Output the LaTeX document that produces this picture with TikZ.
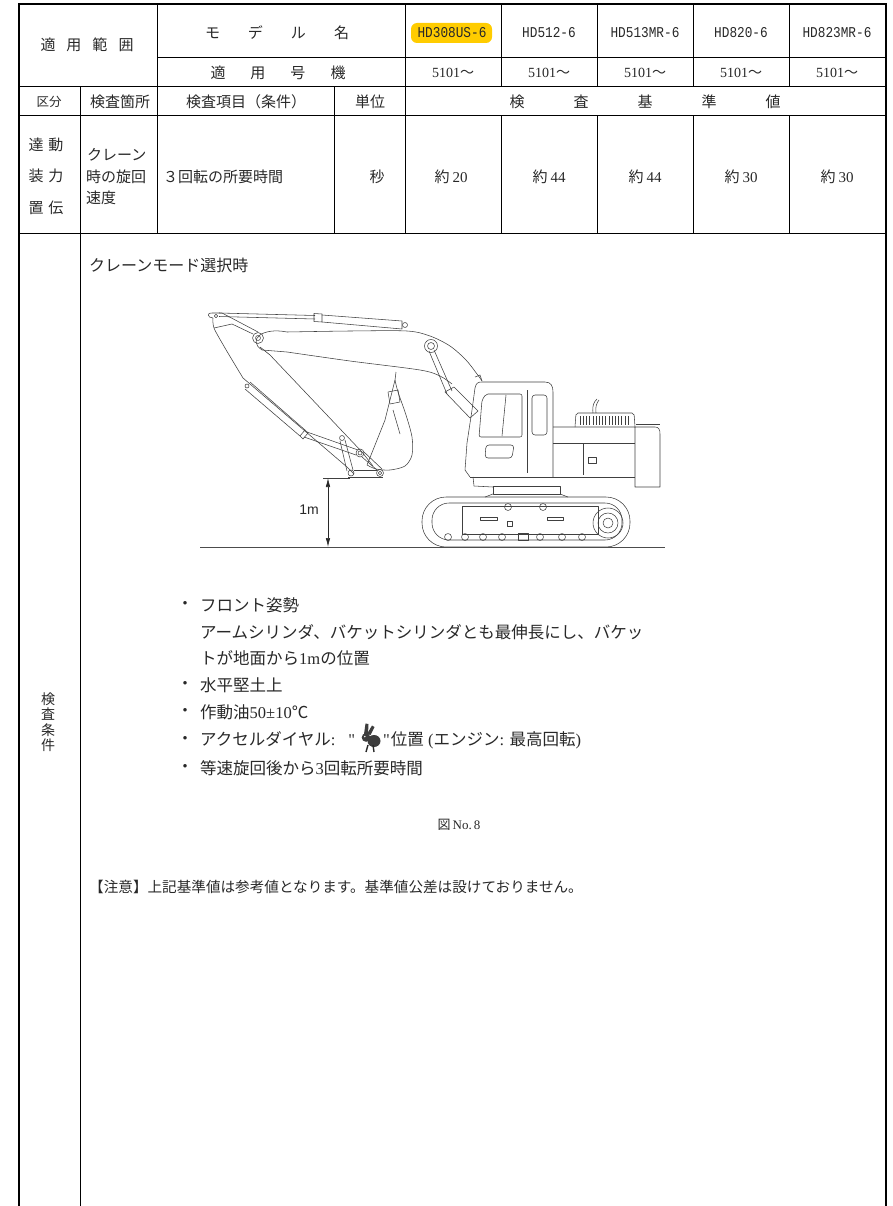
\documentclass[tikz,border=0pt]{standalone}
\usepackage{fontspec}
\setmainfont{Liberation Serif}
\newfontfamily\jp{Noto Sans CJK JP}
\newfontfamily\monof[FakeStretch=0.85]{Liberation Mono}
\newfontfamily\arialf{Liberation Sans}
\newcommand\sq{{\rmfamily\XeTeXglyph\XeTeXglyphindex "quotedbl"\relax}}
\usetikzlibrary{arrows.meta}
\definecolor{hl}{RGB}{255,204,0}
\definecolor{ink}{RGB}{40,40,40}
\begin{document}
\begin{tikzpicture}[x=1pt,y=-1pt,
  outer/.style={line width=2.6pt},
  gridl/.style={line width=1pt},
  tt/.style={inner sep=0pt, text=ink, font=\jp\fontsize{15}{17}\selectfont},
  sm/.style={inner sep=0pt, text=ink, font=\jp\fontsize{12.5}{15}\selectfont},
  mdl/.style={inner sep=0pt, text=ink, font=\monof\fontsize{15}{17}\selectfont},
  num/.style={inner sep=0pt, text=ink, font=\fontsize{14}{16}\selectfont},
  val/.style={inner sep=0pt, text=ink, font=\fontsize{15}{17}\selectfont},
  bl/.style={inner sep=0pt, text=ink, anchor=west, font=\jp\fontsize{16.5}{19}\selectfont},
  dot/.style={inner sep=0pt, text=ink, font=\jp\fontsize{16.5}{19}\selectfont},
  exc/.style={line width=0.55pt, draw=black!75, line join=round}]
\useasboundingbox (0,0) rectangle (892,1206);

% ---------- highlight ----------
\fill[hl, rounded corners=6pt] (411,23) rectangle (492,43);

% ---------- grid ----------
\draw[gridl] (157,58) -- (886,58);
\draw[gridl] (19,87) -- (886,87);
\draw[gridl] (19,116) -- (886,116);
\draw[gridl] (19,234) -- (886,234);
\draw[gridl] (157,4) -- (157,234);
\draw[gridl] (405,4) -- (405,234);
\draw[gridl] (334,87) -- (334,234);
\draw[gridl] (80.5,87) -- (80.5,1206);
\foreach \x in {501,597,693,789} {
  \draw[gridl] (\x,4) -- (\x,87);
  \draw[gridl] (\x,116) -- (\x,234);
}
\draw[outer] (19,1206) -- (19,4) -- (886,4) -- (886,1206);

% ---------- header ----------
\node[tt] (hApp) at (87,45) {適\hspace{11pt}用\hspace{11pt}範\hspace{11pt}囲};
\node[tt] (hModel) at (277,33) {モ\hspace{28pt}デ\hspace{28pt}ル\hspace{28pt}名};
\node[tt] (hSerial) at (278,73) {適\hspace{25pt}用\hspace{25pt}号\hspace{25pt}機};
\node[mdl] (m1) at (452,33) {HD308US-6};
\node[mdl] (m2) at (549,33) {HD512-6};
\node[mdl] (m3) at (645,33) {HD513MR-6};
\node[mdl] (m4) at (741,33) {HD820-6};
\node[mdl] (m5) at (837,33) {HD823MR-6};
\foreach \x/\n in {453/s1,549/s2,645/s3,741/s4,837/s5}
  \node[num] (\n) at (\x,73) {5101{\jp 〜}};

% ---------- row 3 ----------
\node[sm] (kb) at (49,102) {区分};
\node[tt] (kk) at (120,102) {検査箇所};
\node[tt] (ki) at (246,102) {検査項目（条件）};
\node[tt] (tu) at (370,102) {単位};
\node[tt] (kj) at (645,102) {検\hspace{49pt}査\hspace{49pt}基\hspace{49pt}準\hspace{49pt}値};

% ---------- row 4 ----------
\node[tt] (c1) at (46,145) {達\hspace{5pt}動};
\node[tt] (c2) at (46,176) {装\hspace{5pt}力};
\node[tt] (c3) at (46,208) {置\hspace{5pt}伝};
\node[tt, anchor=west] (p1) at (87,155) {クレーン};
\node[tt, anchor=west] (p2) at (86,177) {時の旋回};
\node[tt, anchor=west] (p3) at (86,198) {速度};
\node[tt, anchor=west] (it) at (163,177) {３回転の所要時間};
\node[tt] (un) at (377,177) {秒};
\node[val] (v1) at (451,177) {{\jp 約}\hspace{3pt}20};
\node[val] (v2) at (549,177) {{\jp 約}\hspace{3pt}44};
\node[val] (v3) at (645,177) {{\jp 約}\hspace{3pt}44};
\node[val] (v4) at (741,177) {{\jp 約}\hspace{3pt}30};
\node[val] (v5) at (837,177) {{\jp 約}\hspace{3pt}30};

% ---------- row 5 ----------
\node[tt, align=center, font=\jp\fontsize{14}{15.5}\selectfont] (jk) at (48,722) {検\\査\\条\\件};
\node[tt, anchor=west, font=\jp\fontsize{16}{18}\selectfont] (crane) at (89,265) {クレーンモード選択時};

% ---------- excavator ----------
\begin{scope}[exc]
% arm cylinder
\draw (219,313) -- (315,315.5);
\draw (219,316.5) -- (315,319);
\draw (314,313.5) -- (322,314) -- (322,322) -- (314,321.5) -- cycle;
\draw (322,315) -- (402,321) -- (402,329) -- (322,322);
\draw (405,325) circle (2.5);
% boom
\draw plot[smooth] coordinates {(287,332) (350,331) (407,331) (430,336) (450,346) (466,360) (477,374) (482,381)};
\draw (287,332) .. controls (262,327) and (247,340) .. (262,350) -- (287,352);
\draw plot[smooth] coordinates {(287,352) (350,361) (420,370) (440,376) (452,384)};
\draw (258,338) circle (5.5);
\draw (258,338) circle (2.5);
\draw (431,346) circle (6.5);
\draw (431,346) circle (3.5);
% boom cylinder
\draw (429,351) -- (447,394);
\draw (434,350) -- (452,391);
\draw (445,392) -- (454,387) -- (478,411) -- (470,418) -- cycle;
% arm
\draw plot[smooth] coordinates {(213,318) (214,328) (225,348) (243,378)} -- (347,467) -- (354,474);
\draw (260,347) -- (270,355) -- (362,452) -- (373,466);
\draw (212,313) .. controls (207,312) and (207,318) .. (213,318);
\draw (212,313) -- (222,313) -- (258,332);
\draw (214,328) -- (232,324) -- (253,334);
\draw (216,316) circle (1.8);
% bucket cylinder
\draw (247,386) circle (2);
\draw (250,382) -- (305,430);
\draw (245,389) -- (300,436);
\draw (300,436) -- (305,430) -- (308,433) -- (303,439) -- cycle;
\draw (307,432) -- (358,450);
\draw (304,437) -- (356,455);
% links and pins
\draw (342,438) circle (2.5);
\draw (360,453) circle (4);
\draw (360,453) circle (2);
\draw (351,473) circle (3);
\draw (380,473) circle (3.5);
\draw (380,473) circle (1.8);
\draw (340,441) -- (347,471);
\draw (345,440) -- (353,470);
\draw (362,457) -- (377,470);
\draw (364,452) -- (382,469);
\draw (348,477) -- (383,477);
\draw (354,470) -- (377,470);
% bucket
\draw plot[smooth] coordinates {(395,380) (398,392) (406,415) (412,437) (412,455) (405,466) (390,470) (376,469) (367,465)};
\draw (367,465) -- (385,420) -- (395,380);
\draw (393,410) -- (400,434);
\draw (388,392) -- (398,390) -- (400,402) -- (390,404) -- cycle;
\draw (395,380) -- (396,372);
% cab
\draw (470,477) -- (465,470) -- (467,443) -- (472,410) -- (475,388) .. controls (476,383) and (478,382) .. (482,382) -- (545,382) .. controls (551,382) and (553,386) .. (553,392) -- (553,477);
\draw (475,377) -- (480,375) -- (482,381);
\draw[rounded corners=2pt] (486,394) -- (522,394) -- (522,437) -- (479,437) -- (482,400) -- cycle;
\draw (506,395) -- (502,436);
\draw[rounded corners=3pt] (532,395) rectangle (547,435);
\draw[rounded corners=3pt] (486,445) -- (514,445) -- (512,458) -- (485,458) -- cycle;
\draw (527,390) -- (527,473);
% engine / counterweight
\draw (553,427) -- (655,427) .. controls (659,427) and (660,430) .. (660,434) -- (660,487) -- (635,487) -- (635,427);
\draw (553,443) -- (635,443);
\draw (583,443) -- (583,475);
\draw[rounded corners=2pt] (575,427) -- (576,413) -- (634,413) -- (635,427);
\foreach \i in {0,...,15} \draw (580+\i*3.2,416) -- (580+\i*3.2,425);
\draw (593,413) .. controls (592,405) and (594,402) .. (597,399);
\draw (596,413) .. controls (595,406) and (597,403) .. (599,400);
\draw (636,424) -- (660,424);
\draw (588,457) rectangle (596,463);
% deck and swing bearing
\draw (470,477) -- (635,477);
\draw (473,477) -- (474,486) -- (493,487);
\draw (493,486) rectangle (560,494);
\draw (485,497) -- (493,494);
\draw (568,497) -- (560,494);
% undercarriage
\draw[rounded corners=24pt] (422,497) rectangle (630,547);
\draw[rounded corners=17pt] (432,503) rectangle (622,540);
\draw (462,506) rectangle (598,534);
\draw (480,517) rectangle (497,520);
\draw (547,517) rectangle (563,520);
\draw (507,521) rectangle (512,526);
\draw (518,533) rectangle (528,540);
\draw (608,523) circle (15);
\draw (608,523) circle (10);
\draw (608,523) circle (5);
\draw (508,507) circle (3.5);
\draw (543,507) circle (3.5);
\foreach \x in {448,465,483,502,540,562,582} \draw (\x,537) circle (3.5);
\end{scope}

% ground and dimension
\draw[black!70, line width=0.8pt] (200,547) -- (665,547);
\draw[black!75, line width=0.6pt] (323,478) -- (350,478);
\draw[{Latex[length=9pt,width=4.5pt]}-{Latex[length=9pt,width=4.5pt]}, line width=0.6pt, ink] (328,478) -- (328,547);
\node[inner sep=0pt, text=ink, font=\arialf\fontsize{14}{16}\selectfont] (onem) at (309,510) {1m};

% ---------- bullets ----------
\foreach \y in {605,685,712,740,768} \node[dot] at (185,\y) {・};
\node[bl] (b1) at (200,605) {フロント姿勢};
\node[bl] (b1a) at (200,632) {アームシリンダ、バケットシリンダとも最伸長にし、バケッ};
\node[bl] (b1b) at (200,658) {トが地面から{\rmfamily 1m}の位置};
\node[bl] (b2) at (200,685) {水平堅土上};
\node[bl] (b3) at (200,712) {作動油{\rmfamily 50±10}℃};
\node[bl] (b4) at (200,740) {アクセルダイヤル{\rmfamily:}\hspace{13pt}\sq\hspace{28pt}\sq\hspace{1pt}位置{\rmfamily\ (}エンジン{\rmfamily: }最高回転{\rmfamily )}};
% accel dial hare icon
\begin{scope}[fill=ink!90]
\fill (374,741) ellipse [x radius=6.5, y radius=6];
\fill (366,737.5) circle (4.3);
\fill (364,734) -- (365.5,723.5) -- (368.5,724) -- (368,734) -- cycle;
\fill (367,734) -- (372,725.5) -- (374.5,727) -- (370.5,735) -- cycle;
\draw[ink, line width=1.4pt] (368,745) -- (366,752);
\draw[ink, line width=1.4pt] (373,745) -- (374,752);
\fill[white] (364.8,736.5) circle (0.8);
\end{scope}
\node[bl] (b5) at (200,768) {等速旋回後から{\rmfamily 3}回転所要時間};

% ---------- figure label and note ----------
\node[inner sep=0pt, text=ink, font=\fontsize{13}{15}\selectfont] (fig) at (459,825) {{\jp 図}\,No.\,8};
\node[inner sep=0pt, text=ink, anchor=west, font=\jp\fontsize{14.6}{16}\selectfont] (note) at (89,887) {【注意】上記基準値は参考値となります。基準値公差は設けておりません。};
\end{tikzpicture}
\end{document}
